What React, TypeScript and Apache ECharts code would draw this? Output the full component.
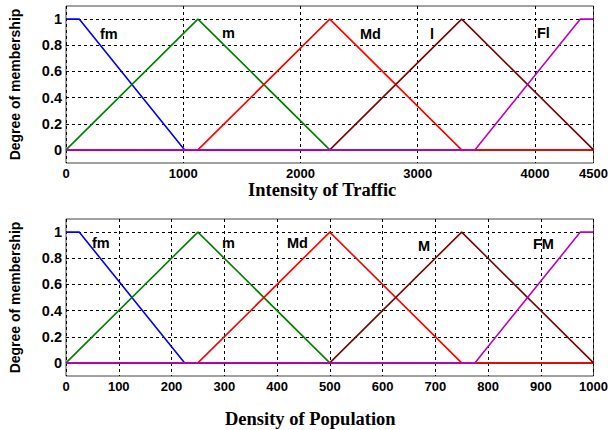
import React, { useEffect, useRef } from "react";
import * as echarts from "echarts";

// Intensity of Traffic membership functions (x, degree)
const trafficFm = [[0, 1], [112.5, 1], [1012.5, 0], [4500, 0]];
const trafficM = [[0, 0], [1125, 1], [2250, 0], [4500, 0]];
const trafficMd = [[0, 0], [1125, 0], [2250, 1], [3375, 0], [4500, 0]];
const trafficL = [[0, 0], [2250, 0], [3375, 1], [4500, 0]];
const trafficFl = [[0, 0], [3487.5, 0], [4387.5, 1], [4500, 1]];

// Density of Population membership functions
const popFm = [[0, 1], [25, 1], [225, 0], [1000, 0]];
const popM = [[0, 0], [250, 1], [500, 0], [1000, 0]];
const popMd = [[0, 0], [250, 0], [500, 1], [750, 0], [1000, 0]];
const popBigM = [[0, 0], [500, 0], [750, 1], [1000, 0]];
const popFM = [[0, 0], [775, 0], [975, 1], [1000, 1]];

const trafficNames = ["fm", "m", "Md", "l", "Fl"];
const popNames = ["fm", "m", "Md", "M", "FM"];
const yTicks = [0, 0.2, 0.4, 0.6, 0.8, 1];
const trafficTicks = [0, 1000, 2000, 3000, 4000, 4500];
const popTicks = [0, 100, 200, 300, 400, 500, 600, 700, 800, 900, 1000];

const colors = ["#0000ff", "#008000", "#ff0000", "#800000", "#c000c0"];

export default function App() {
  const ref = useRef<HTMLDivElement>(null);
  useEffect(() => {
    document.body.style.margin = "0";
    const chart = echarts.init(ref.current!, null, { renderer: "svg" });
    const sans = "Liberation Sans, Arial, sans-serif";
    const makeX = (gi: number, max: number, ticks: number[]) => ({
      type: "value",
      gridIndex: gi,
      min: 0,
      max,
      axisLine: { show: false },
      axisTick: { show: false, customValues: ticks },
      axisLabel: {
        fontFamily: sans,
        fontWeight: "bold",
        fontSize: 13,
        color: "#000",
        customValues: ticks,
        margin: 4,
        formatter: (v: number) => String(v),
      },
      splitLine: { show: true, lineStyle: { color: "#000", type: [3, 3], width: 1 } },
    });
    const makeY = (gi: number) => ({
      type: "value",
      gridIndex: gi,
      min: -0.1,
      max: 1.1,
      axisLine: { show: false },
      axisTick: { show: false, customValues: yTicks },
      axisLabel: {
        fontFamily: sans,
        fontWeight: "bold",
        fontSize: 14.5,
        color: "#000",
        customValues: yTicks,
        margin: 4,
        formatter: (v: number) => String(Math.round(v * 10) / 10),
      },
      splitLine: { show: true, lineStyle: { color: "#000", type: [3, 3], width: 1 } },
      name: "Degree of membership",
      nameLocation: "middle",
      nameGap: 44,
      nameRotate: 90,
      nameTextStyle: {
        fontFamily: sans,
        fontWeight: "bold",
        fontSize: 14,
        color: "#000",
      },
    });
    const trafficData = [trafficFm, trafficM, trafficMd, trafficL, trafficFl];
    const popData = [popFm, popM, popMd, popBigM, popFM];
    const series: any[] = [];
    trafficData.forEach((d, i) =>
      series.push({
        type: "line",
        name: "t" + trafficNames[i],
        xAxisIndex: 0,
        yAxisIndex: 0,
        data: d,
        symbol: "none",
        lineStyle: { color: colors[i], width: 1.6 },
        z: 3 + i,
      })
    );
    popData.forEach((d, i) =>
      series.push({
        type: "line",
        name: "p" + popNames[i],
        xAxisIndex: 1,
        yAxisIndex: 1,
        data: d,
        symbol: "none",
        lineStyle: { color: colors[i], width: 1.6 },
        z: 3 + i,
      })
    );
    const labelStyle = {
      fontFamily: sans,
      fontWeight: "bold",
      fontSize: 14.5,
      fill: "#000",
    };
    const topLabelPos = [[100, 26], [222, 25], [360, 26], [430, 26], [537, 25]];
    const botLabelPos = [[92, 235], [222, 235], [287, 235], [418, 238], [533, 236]];
    const graphics: any[] = [];
    trafficNames.forEach((n, i) =>
      graphics.push({ type: "text", left: topLabelPos[i][0], top: topLabelPos[i][1], style: { text: n, ...labelStyle } })
    );
    popNames.forEach((n, i) =>
      graphics.push({ type: "text", left: botLabelPos[i][0], top: botLabelPos[i][1], style: { text: n, ...labelStyle } })
    );
    const titleStyle = {
      fontFamily: "Liberation Serif, Times New Roman, serif",
      fontWeight: "bold",
      fontSize: 18.5,
      fill: "#000",
    };
    graphics.push({ type: "text", left: 248, top: 180, style: { text: "Intensity of Traffic", ...titleStyle } });
    graphics.push({ type: "text", left: 225, top: 409, style: { text: "Density of Population", ...titleStyle } });

    chart.setOption({
      animation: false,
      backgroundColor: "#fff",
      grid: [
        { left: 63, top: 6, width: 532, height: 157, show: true, borderColor: "#444", borderWidth: 1, backgroundColor: "transparent" },
        { left: 63, top: 219, width: 532, height: 157, show: true, borderColor: "#444", borderWidth: 1, backgroundColor: "transparent" },
      ],
      xAxis: [makeX(0, 4500, trafficTicks), makeX(1, 1000, popTicks)],
      yAxis: [makeY(0), makeY(1)],
      series,
      graphic: graphics,
    });
    return () => chart.dispose();
  }, []);
  return <div ref={ref} style={{ width: 611, height: 430 }} />;
}
